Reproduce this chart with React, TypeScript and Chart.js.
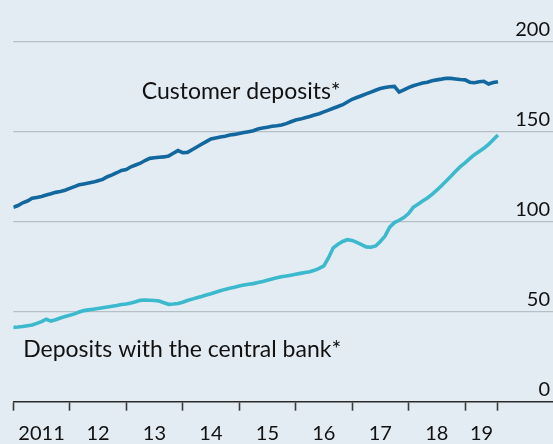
import React, { useEffect, useRef } from 'react';
import { Chart, registerables } from 'chart.js';

Chart.register(...registerables);

// Month index since January 2011 (0 = Jan 2011)
const customerDeposits: number[] = [
  108, 109, 110.5, 111.5, 113, 113.5, 114, 114.8, 115.5, 116.3, 116.8, 117.5,
  118.5, 119.5, 120.5, 121, 121.5, 122, 122.8, 123.5, 125, 126, 127.2, 128.5,
  129, 130.5, 131.5, 132.5, 134, 135.2, 135.5, 135.8, 136, 136.5, 138, 139.5,
  138.3, 138.5, 140, 141.5, 143, 144.5, 146, 146.5, 147, 147.5, 148.2, 148.5,
  149, 149.5, 150, 150.5, 151.5, 152, 152.5, 153, 153.3, 153.7, 154.5, 155.5,
  156.5, 157, 157.8, 158.5, 159.3, 160, 161, 162, 163, 164, 165, 166.5,
  168, 169, 170, 171, 172, 173, 174, 174.5, 175, 175.2, 172, 173.2,
  174.5, 175.5, 176.3, 177, 177.5, 178.3, 178.8, 179.2, 179.7, 179.6, 179.3, 179,
  178.8, 177.5, 177.2, 177.8, 178, 176.5, 177.3, 177.8,
];

const centralBankDeposits: number[] = [
  41.3, 41.5, 41.8, 42.2, 42.6, 43.5, 44.5, 45.8, 44.8, 45.5, 46.5, 47.3,
  48, 48.8, 49.8, 50.6, 51, 51.4, 51.8, 52.2, 52.6, 53, 53.4, 54,
  54.3, 54.8, 55.5, 56.3, 56.5, 56.4, 56.2, 55.9, 55, 54.1, 54.3, 54.6,
  55.3, 56.2, 57, 57.8, 58.5, 59.3, 60, 60.8, 61.6, 62.4, 63, 63.6,
  64.3, 64.8, 65.3, 65.6, 66.2, 66.8, 67.5, 68.2, 68.8, 69.4, 69.8, 70.3,
  70.8, 71.3, 71.8, 72.2, 73, 74.1, 75.5, 80, 85.5, 87.5, 89, 90,
  89.6, 88.5, 87.3, 86, 85.8, 86.5, 89, 92, 97, 99.5, 100.8, 102.3,
  104.5, 108, 109.7, 111.5, 113.2, 115.2, 117.5, 120, 122.6, 125.2, 128, 130.6,
  132.7, 135, 137.2, 139, 140.8, 143, 145.5, 148.2,
];

const yearLabels: string[] = ['2011', '12', '13', '14', '15', '16', '17', '18', '19'];
const yearBoundaryMonths: number[] = [0, 12, 24, 36, 48, 60, 72, 84, 96, 103];
const yTickValues: number[] = [0, 50, 100, 150, 200];

const seriesNames: string[] = ['Customer deposits*', 'Deposits with the central bank*'];
// label anchors in data coordinates (month index, value)
const labelMonths: number[] = [27.3, 2.1];
const labelValues: number[] = [168, 25];

const BG = '#e4ecf3';
const FONT = 'Lato, "Open Sans", sans-serif';

function labelMidpoints(): number[] {
  const mids: number[] = [];
  for (let i = 0; i < yearBoundaryMonths.length - 1; i++) {
    mids.push((yearBoundaryMonths[i] + yearBoundaryMonths[i + 1]) / 2);
  }
  return mids;
}

export default function App() {
  const canvasRef = useRef<HTMLCanvasElement | null>(null);

  useEffect(() => {
    const canvas = canvasRef.current;
    if (!canvas) return;
    const mids = labelMidpoints();
    const xTicks = [...yearBoundaryMonths, ...mids].sort((a, b) => a - b);

    const toPoints = (arr: number[]) => arr.map((v, i) => ({ x: i, y: v }));

    const textPlugin = {
      id: 'textLabels',
      afterDatasetsDraw(chart: any) {
        const { ctx, scales, chartArea } = chart;
        ctx.save();
        // series labels
        ctx.font = `23px ${FONT}`;
        ctx.fillStyle = '#111111';
        ctx.textAlign = 'left';
        ctx.textBaseline = 'alphabetic';
        seriesNames.forEach((name, i) => {
          const x = scales.x.getPixelForValue(labelMonths[i]);
          const y = scales.y.getPixelForValue(labelValues[i]);
          ctx.fillText(name, x, y);
        });
        // y-axis tick labels, right aligned above each gridline
        ctx.font = `20px ${FONT}`;
        ctx.textAlign = 'right';
        const yScale = scales.y;
        yScale.ticks.forEach((t: any) => {
          const y = yScale.getPixelForValue(t.value);
          ctx.fillText(String(t.label ?? t.value), chartArea.right - 3, y - 6);
        });
        ctx.restore();
      },
    };

    const chart = new Chart(canvas, {
      type: 'line',
      data: {
        datasets: [
          {
            label: seriesNames[0],
            data: toPoints(customerDeposits),
            borderColor: '#12679e',
            borderWidth: 3.6,
            pointRadius: 0,
            tension: 0,
            fill: false,
          },
          {
            label: seriesNames[1],
            data: toPoints(centralBankDeposits),
            borderColor: '#3cb9cd',
            borderWidth: 3.6,
            pointRadius: 0,
            tension: 0,
            fill: false,
          },
        ],
      },
      options: {
        animation: false,
        responsive: false,
        devicePixelRatio: 1,
        layout: { padding: { left: 13.3, right: 0, top: 41.7, bottom: 0 } },
        plugins: {
          legend: { display: false },
          tooltip: { enabled: false },
        },
        scales: {
          x: {
            type: 'linear',
            position: 'bottom',
            min: 0,
            max: 114.7,
            afterBuildTicks: (scale: any) => {
              scale.ticks = xTicks.map((v) => ({ value: v }));
            },
            afterFit: (scale: any) => {
              scale.height = 444 - 401.7;
            },
            grid: {
              drawOnChartArea: false,
              drawTicks: true,
              tickLength: 9,
              tickWidth: 1.6,
              tickColor: (ctx: any) =>
                ctx.tick && yearBoundaryMonths.includes(ctx.tick.value) ? '#3a3a3a' : 'rgba(0,0,0,0)',
            },
            border: { display: true, color: '#2a2a2a', width: 1.5 },
            ticks: {
              autoSkip: false,
              maxRotation: 0,
              minRotation: 0,
              padding: 11,
              color: '#111111',
              font: { family: FONT, size: 20 },
              callback: (value: any) => {
                const idx = mids.indexOf(Number(value));
                return idx >= 0 ? yearLabels[idx] : '';
              },
            },
          },
          y: {
            position: 'right',
            min: 0,
            max: 200,
            afterBuildTicks: (scale: any) => {
              scale.ticks = yTickValues.map((v) => ({ value: v, label: String(v) }));
            },
            afterFit: (scale: any) => {
              scale.width = 0;
            },
            grid: {
              drawTicks: false,
              lineWidth: 1.3,
              color: (ctx: any) => (ctx.tick && ctx.tick.value === 0 ? 'rgba(0,0,0,0)' : '#b6bec6'),
            },
            border: { display: false },
            ticks: {
              display: false,
            },
          },
        },
      },
      plugins: [textPlugin],
    });

    return () => {
      chart.destroy();
    };
  }, []);

  return (
    <div
      style={{
        position: 'fixed',
        left: 0,
        top: 0,
        width: 553,
        height: 444,
        background: BG,
      }}
    >
      <canvas ref={canvasRef} width={553} height={444} style={{ display: 'block' }} />
    </div>
  );
}
